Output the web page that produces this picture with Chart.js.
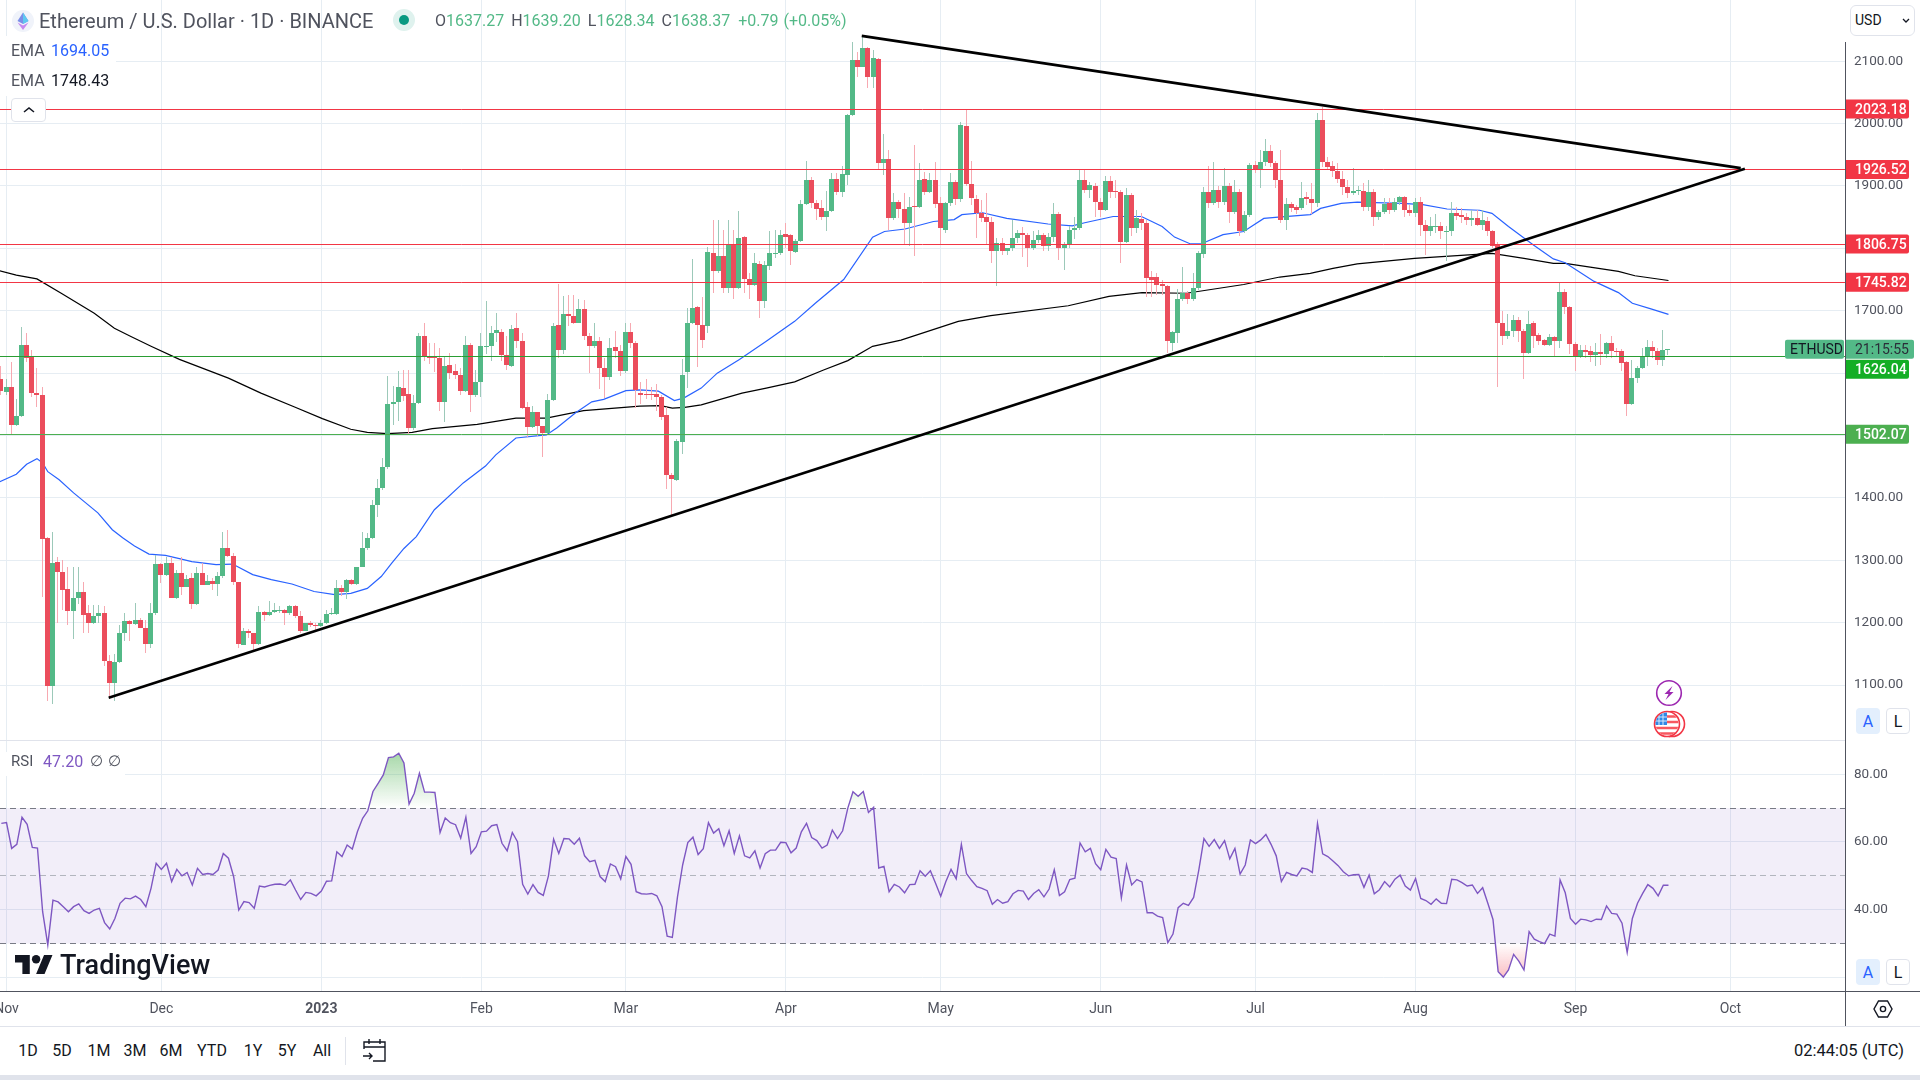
<!DOCTYPE html>
<html>
<head>
<meta charset="utf-8">
<title>ETHUSD</title>
<script src="https://cdn.jsdelivr.net/npm/chart.js@4"></script>
<style>
  html, body { margin: 0; padding: 0; background: #fff; width: 1920px; height: 1080px; overflow: hidden; font-family: Roboto, sans-serif; color: #131722; }
  canvas { position: absolute; left: 0; }
  #priceChart { top: 0; }
  #rsiChart { top: 740px; }
  .abs { position: absolute; white-space: nowrap; }
  .btnA, .btnL { position: absolute; width: 24px; height: 26px; line-height: 27px; text-align: center; font-size: 16px; border-radius: 4px; box-sizing: border-box; }
  .btnA { left: 1856px; background: #e3effd; color: #2962ff; }
  .btnL { left: 1886px; border: 1px solid #e0e3eb; color: #131722; line-height: 25px; background: #fff; }
  .range { position: absolute; top: 1040px; font-size: 16px; line-height: 21px; transform: translateX(-50%); color: #131722; }
  .up { color: #53b987; }
  .lbl { color: #50535e; }
</style>
</head>
<body>
<canvas id="priceChart" width="1920" height="740"></canvas>
<canvas id="rsiChart" width="1920" height="286"></canvas>

<!-- pane and axis lines -->
<div class="abs" style="left:0;top:740px;width:1845px;height:1px;background:#e0e3eb"></div>
<div class="abs" style="left:0;top:991px;width:1920px;height:1px;background:#50535e"></div>
<div class="abs" style="left:0;top:1026px;width:1920px;height:1px;background:#e0e3eb"></div>
<div class="abs" style="left:1845px;top:42px;width:1px;height:984px;background:#50535e"></div>
<div class="abs" style="left:0;top:1075px;width:1920px;height:5px;background:#e0e3eb"></div>

<!-- header -->
<svg class="abs" style="left:11px;top:9px" width="24" height="24" viewBox="0 0 24 24">
  <circle cx="12" cy="12" r="11" fill="#f0f3fa"/>
  <path d="M12 3.5 L6.5 12 L12 15 L17.5 12Z" fill="#7b8ee8"/>
  <path d="M12 3.5 L12 15 L17.5 12Z" fill="#5ec8f0"/>
  <path d="M6.5 13.4 L12 21 L17.5 13.4 L12 16.5Z" fill="#c58af0"/>
</svg>
<div class="abs" style="left:39px;top:9px;font-size:20px;line-height:24px;color:#50535e">Ethereum / U.S. Dollar · 1D · BINANCE</div>
<svg class="abs" style="left:393px;top:9px" width="22" height="22"><circle cx="11" cy="11" r="11" fill="#dff2ee"/><circle cx="11" cy="11" r="5" fill="#089981"/></svg>
<div class="abs lbl" style="left:435px;top:10px;font-size:16px;line-height:22px"><span>O</span><span class="up">1637.27</span><span style="margin-left:7px">H</span><span class="up">1639.20</span><span style="margin-left:7px">L</span><span class="up">1628.34</span><span style="margin-left:7px">C</span><span class="up">1638.37</span><span class="up" style="margin-left:8px">+0.79</span><span class="up" style="margin-left:5px">(+0.05%)</span></div>

<!-- moving average legend -->
<div class="abs" style="left:0;top:36px;width:116px;height:60px;background:#fff"></div>
<div class="abs lbl" style="left:11px;top:40px;font-size:16px;line-height:21px">EMA</div>
<div class="abs" style="left:51px;top:40px;font-size:16px;line-height:21px;color:#2962ff">1694.05</div>
<div class="abs lbl" style="left:11px;top:70px;font-size:16px;line-height:21px">EMA</div>
<div class="abs" style="left:51px;top:70px;font-size:16px;line-height:21px;color:#131722">1748.43</div>
<div class="abs" style="left:11px;top:98px;width:35px;height:24px;background:#fff;border:1px solid #e0e3eb;border-radius:4px;box-sizing:border-box"></div>
<svg class="abs" style="left:22px;top:106px" width="14" height="8"><path d="M2 6 L7 2 L12 6" fill="none" stroke="#131722" stroke-width="1.6"/></svg>

<!-- currency box -->
<div class="abs" style="left:1850px;top:5px;width:65px;height:31px;border:1px solid #e0e3eb;border-radius:6px;box-sizing:border-box;background:#fff"></div>
<div class="abs" style="left:1855px;top:10px;font-size:14px;line-height:20px;color:#131722">USD</div>
<svg class="abs" style="left:1901px;top:18px" width="10" height="6"><path d="M2 1 L5 4 L8 1" fill="none" stroke="#131722" stroke-width="1.3"/></svg>

<!-- event icons -->
<svg class="abs" style="left:1655px;top:679px" width="28" height="28" viewBox="0 0 28 28">
  <circle cx="14" cy="14" r="12.3" fill="#fff" stroke="#9c27b0" stroke-width="1.6"/>
  <path d="M17.5 7 L9.5 15 L13.5 15 L10.5 21 L18.5 13 L14.5 13Z" fill="#9c27b0"/>
</svg>
<svg class="abs" style="left:1652px;top:708px" width="36" height="32" viewBox="0 0 36 32">
  <defs><clipPath id="flagClip"><circle cx="15" cy="16" r="11.5"/></clipPath></defs>
  <circle cx="20" cy="16" r="12.5" fill="#fff" stroke="#f23645" stroke-width="1.6"/>
  <circle cx="15" cy="16" r="12.5" fill="#fff" stroke="#f23645" stroke-width="1.6"/>
  <g clip-path="url(#flagClip)">
    <path d="M3 8.5 H28 M3 14 H28 M3 20 H28 M3 25.5 H28" stroke="#f7575f" stroke-width="2.6"/>
    <rect x="3" y="4" width="12" height="13" fill="#2f88e6"/>
    <path d="M7 4 V17 M11 4 V17 M3 9 H15 M3 13 H15" stroke="#d6e8fb" stroke-width="1"/>
  </g>
</svg>

<!-- A / L buttons -->
<div class="btnA" style="top:708px">A</div><div class="btnL" style="top:708px">L</div>
<div class="btnA" style="top:959px">A</div><div class="btnL" style="top:959px">L</div>

<!-- RSI legend -->
<div class="abs" style="left:0;top:752px;width:125px;height:24px;background:#fff"></div>
<div class="abs lbl" style="left:11px;top:751px;font-size:15px;line-height:21px">RSI</div>
<div class="abs" style="left:43px;top:751px;font-size:16px;line-height:21px;color:#7e57c2">47.20</div>
<div class="abs lbl" style="left:90px;top:751px;font-size:15px;line-height:21px">∅</div>
<div class="abs lbl" style="left:108px;top:751px;font-size:15px;line-height:21px">∅</div>

<!-- watermark -->
<svg class="abs" style="left:15px;top:955px" width="38" height="19" viewBox="0 0 36 18">
  <path d="M14 18H7V7H0V0h14v18zM28 18h-8L27.5 0h8L28 18z" fill="#131722"/>
  <circle cx="20" cy="4" r="4" fill="#131722"/>
</svg>
<div class="abs" style="left:60px;top:949px;font-size:27px;line-height:32px;font-weight:500;color:#131722">TradingView</div>

<!-- bottom toolbar -->
<div class="range" style="left:28px">1D</div>
<div class="range" style="left:62px">5D</div>
<div class="range" style="left:99px">1M</div>
<div class="range" style="left:135px">3M</div>
<div class="range" style="left:171px">6M</div>
<div class="range" style="left:212px">YTD</div>
<div class="range" style="left:253px">1Y</div>
<div class="range" style="left:287px">5Y</div>
<div class="range" style="left:322px">All</div>
<div class="abs" style="left:345px;top:1037px;width:1px;height:28px;background:#e0e3eb"></div>
<svg class="abs" style="left:362px;top:1037px" width="25" height="26" viewBox="0 0 25 26">
  <path d="M2 12 V5 H23 V24 H11 M2 10 H23 M7 2 V7 M18 2 V7 M1 19 H10 M7 16 L10 19 L7 22" fill="none" stroke="#131722" stroke-width="1.4"/>
</svg>
<div class="abs" style="left:1794px;top:1040px;font-size:16.5px;line-height:21px;color:#131722">02:44:05 (UTC)</div>
<svg class="abs" style="left:1872px;top:998px" width="22" height="22" viewBox="0 0 22 22">
  <path d="M6.5 3 H15.5 L20 11 L15.5 19 H6.5 L2 11Z" fill="none" stroke="#131722" stroke-width="1.4"/>
  <circle cx="11" cy="11" r="2.6" fill="none" stroke="#131722" stroke-width="1.4"/>
</svg>

<script>
// daily candles, first one is Oct 31 2022, last one is Sep 19 2023
const opens = [
  1591,1570,1578,1517,1531,1645,1627,1568,1565,1335,
  1098,1297,1282,1254,1218,1239,1250,1215,1199,1211,
  1215,1139,1104,1137,1183,1202,1198,1205,1192,1166,
  1215,1294,1276,1295,1240,1279,1258,1271,1230,1279,
  1261,1267,1262,1275,1319,1307,1265,1164,1187,1183,
  1166,1217,1213,1217,1220,1220,1216,1227,1211,1187,
  1199,1197,1194,1199,1214,1214,1255,1250,1269,1262,
  1289,1319,1336,1389,1416,1449,1551,1553,1576,1567,
  1512,1552,1660,1627,1627,1625,1554,1613,1603,1597,
  1572,1645,1565,1585,1643,1643,1665,1666,1629,1612,
  1672,1652,1545,1513,1537,1515,1504,1557,1677,1637,
  1694,1692,1681,1703,1660,1643,1652,1608,1593,1642,
  1635,1604,1666,1648,1568,1567,1566,1566,1561,1533,
  1437,1429,1490,1601,1680,1706,1677,1676,1792,1763,
  1788,1737,1807,1737,1818,1751,1742,1775,1715,1772,
  1792,1792,1823,1821,1794,1811,1871,1910,1872,1864,
  1850,1860,1911,1891,1918,2014,2102,2091,2121,2075,
  2103,1936,1943,1848,1874,1863,1841,1868,1866,1911,
  1891,1910,1872,1830,1872,1907,1879,1996,1903,1879,
  1856,1851,1843,1795,1808,1795,1800,1817,1824,1822,
  1800,1814,1821,1804,1818,1855,1800,1807,1830,1832,
  1910,1893,1900,1875,1862,1908,1892,1890,1810,1886,
  1832,1847,1840,1754,1754,1743,1740,1649,1665,1718,
  1728,1719,1736,1791,1890,1872,1894,1875,1900,1859,
  1890,1827,1854,1934,1926,1938,1956,1937,1910,1846,
  1871,1866,1864,1882,1879,1872,2006,1938,1932,1924,
  1911,1898,1888,1892,1892,1866,1891,1850,1858,1873,
  1861,1875,1882,1862,1856,1875,1838,1827,1835,1836,
  1827,1827,1856,1854,1850,1846,1848,1838,1844,1827,
  1807,1681,1660,1668,1685,1668,1633,1680,1661,1653,
  1645,1658,1652,1730,1706,1646,1628,1637,1636,1629,
  1634,1631,1648,1636,1635,1618,1551,1592,1608,1627,
  1642,1635,1621,1637.27
];
const closes = [
  1571,1578,1517,1531,1645,1625,1568,1565,1334,1098,
  1295,1282,1253,1218,1239,1250,1213,1199,1211,1215,
  1139,1104,1137,1183,1202,1198,1205,1192,1166,1215,
  1294,1276,1295,1240,1279,1258,1270,1230,1279,1261,
  1267,1262,1275,1319,1307,1265,1166,1187,1183,1166,
  1217,1213,1217,1220,1221,1216,1227,1210,1187,1199,
  1196,1194,1199,1214,1215,1255,1250,1269,1262,1289,
  1319,1336,1389,1416,1449,1551,1553,1577,1564,1512,
  1552,1660,1627,1625,1625,1554,1612,1600,1597,1572,
  1645,1565,1585,1643,1644,1665,1669,1629,1613,1670,
  1651,1544,1513,1537,1515,1504,1557,1676,1637,1695,
  1691,1680,1703,1659,1643,1652,1608,1593,1641,1635,
  1604,1666,1648,1573,1565,1565,1565,1561,1530,1436,
  1431,1492,1597,1680,1704,1677,1653,1794,1763,1787,
  1737,1807,1737,1816,1751,1742,1776,1715,1774,1792,
  1793,1821,1818,1795,1812,1871,1910,1872,1863,1850,
  1860,1911,1891,1919,2014,2102,2091,2121,2075,2105,
  1937,1943,1848,1874,1863,1841,1866,1866,1910,1891,
  1910,1871,1832,1872,1907,1879,1998,1903,1880,1856,
  1849,1843,1795,1808,1795,1800,1817,1825,1821,1800,
  1814,1821,1804,1818,1855,1800,1807,1830,1833,1910,
  1893,1902,1874,1862,1908,1891,1890,1810,1885,1832,
  1848,1840,1752,1750,1741,1740,1651,1666,1718,1728,
  1719,1736,1792,1890,1872,1894,1874,1900,1859,1890,
  1827,1854,1934,1926,1938,1956,1937,1910,1846,1871,
  1864,1862,1881,1879,1872,2006,1938,1931,1924,1911,
  1898,1888,1892,1893,1866,1891,1850,1858,1871,1861,
  1875,1882,1862,1856,1875,1838,1827,1835,1836,1827,
  1828,1856,1852,1850,1846,1848,1838,1846,1827,1804,
  1681,1660,1668,1685,1667,1633,1679,1659,1652,1645,
  1658,1652,1730,1706,1646,1628,1637,1634,1629,1634,
  1631,1648,1635,1635,1617,1551,1592,1608,1627,1642,
  1635,1621,1637,1638.37
];
const highs = [
  1612,1590,1618,1558,1674,1665,1637,1608,1578,1338,
  1345,1306,1301,1290,1290,1290,1266,1229,1229,1229,
  1226,1148,1150,1197,1215,1204,1231,1207,1204,1231,
  1309,1295,1306,1306,1285,1306,1277,1279,1290,1295,
  1277,1271,1282,1346,1349,1311,1266,1191,1190,1184,
  1226,1218,1234,1231,1226,1222,1229,1229,1218,1200,
  1202,1199,1205,1221,1224,1269,1261,1270,1270,1290,
  1345,1343,1397,1430,1464,1595,1579,1603,1605,1605,
  1565,1664,1681,1648,1648,1641,1627,1633,1615,1608,
  1660,1648,1605,1665,1715,1675,1696,1671,1660,1677,
  1697,1664,1553,1548,1538,1516,1567,1680,1743,1723,
  1726,1726,1719,1717,1665,1680,1658,1625,1657,1667,
  1645,1680,1681,1652,1585,1590,1578,1583,1565,1545,
  1440,1495,1623,1704,1783,1708,1722,1802,1845,1846,
  1829,1846,1829,1860,1819,1760,1792,1780,1779,1827,
  1830,1830,1841,1823,1815,1878,1940,1915,1877,1877,
  1892,1920,1920,1932,2015,2131,2115,2139,2123,2118,
  2105,1983,1958,1889,1878,1889,1883,1966,1937,1923,
  1921,1938,1883,1875,1921,1910,2002,2022,1940,1885,
  1878,1889,1850,1816,1816,1801,1846,1830,1834,1824,
  1827,1830,1824,1825,1872,1858,1810,1835,1850,1926,
  1926,1906,1905,1880,1916,1916,1910,1893,1897,1888,
  1862,1857,1845,1763,1760,1750,1742,1668,1735,1770,
  1732,1760,1795,1899,1932,1938,1900,1929,1905,1910,
  1895,1860,1937,1940,1958,1976,1965,1940,1958,1880,
  1875,1870,1907,1890,1905,2017,2027,1947,1940,1937,
  1924,1910,1928,1900,1905,1910,1895,1862,1880,1880,
  1880,1884,1884,1870,1880,1883,1845,1850,1855,1843,
  1835,1875,1866,1865,1856,1862,1862,1862,1850,1830,
  1810,1699,1695,1693,1690,1670,1700,1684,1665,1655,
  1662,1660,1745,1735,1708,1650,1645,1645,1644,1648,
  1663,1650,1659,1640,1638,1620,1621,1612,1641,1653,
  1652,1640,1669,1639.2
];
const lows = [
  1565,1565,1503,1515,1530,1618,1562,1546,1241,1074,
  1070,1199,1221,1197,1174,1230,1184,1183,1198,1199,
  1130,1081,1075,1135,1170,1170,1197,1191,1152,1159,
  1212,1263,1275,1239,1238,1245,1257,1222,1229,1260,
  1260,1252,1242,1271,1306,1261,1159,1164,1175,1156,
  1165,1202,1210,1216,1215,1196,1212,1208,1183,1187,
  1193,1186,1193,1198,1212,1213,1242,1238,1261,1261,
  1289,1317,1334,1370,1413,1447,1517,1523,1555,1503,
  1509,1550,1620,1615,1602,1540,1521,1590,1590,1565,
  1570,1537,1562,1561,1630,1620,1650,1620,1605,1610,
  1640,1543,1497,1512,1500,1465,1502,1555,1625,1630,
  1675,1679,1680,1653,1600,1640,1574,1560,1589,1625,
  1595,1600,1640,1544,1550,1558,1557,1540,1525,1415,
  1372,1427,1470,1576,1678,1610,1640,1665,1728,1760,
  1728,1728,1718,1735,1728,1718,1740,1688,1705,1766,
  1785,1790,1800,1773,1793,1810,1870,1865,1845,1845,
  1827,1858,1885,1883,1902,2012,2075,2090,2057,2057,
  1925,1918,1829,1845,1848,1805,1804,1788,1865,1885,
  1888,1865,1805,1825,1868,1870,1875,1900,1870,1816,
  1842,1805,1777,1740,1790,1790,1795,1808,1786,1770,
  1797,1808,1795,1795,1810,1782,1766,1800,1815,1830,
  1888,1880,1850,1850,1860,1880,1880,1776,1808,1820,
  1825,1830,1722,1722,1725,1725,1632,1635,1648,1715,
  1710,1715,1733,1785,1865,1870,1865,1870,1840,1855,
  1820,1824,1850,1920,1897,1932,1930,1897,1840,1830,
  1858,1855,1862,1870,1855,1866,1930,1925,1915,1905,
  1885,1880,1885,1885,1860,1860,1835,1845,1855,1855,
  1858,1870,1850,1852,1850,1820,1790,1820,1825,1815,
  1780,1820,1845,1840,1838,1835,1835,1830,1820,1800,
  1577,1645,1655,1658,1650,1591,1630,1640,1645,1644,
  1644,1627,1640,1695,1630,1603,1625,1625,1618,1611,
  1613,1625,1625,1628,1603,1532,1549,1584,1606,1612,
  1625,1613,1611,1628.34
];
const candleDays = closes.map((_, i) => i - 1);

const ema50Days = [-1.3,1.9,3.9,5.9,7,8,10.2,13,17.7,20.5,22.5,24.8,27.6,30.8,33.9,35.9,40.6,43.8,47.7,51.3,55.3,59.6,63.6,66.7,69.9,72.6,74.6,77,79.4,82.9,88.5,92.8,94.8,98.7,104.6,106.6,110.2,113.4,115.7,120,122.7,126.3,129.4,131.2,134.6,137.7,142,147.2,152.7,156.7,162.2,167.8,170.1,174.1,179.6,183.6,185.1,189.1,193.8,201.8,206.5,208.9,214.4,219.9,223.9,226.3,229.4,231.4,235.7,239.7,243.6,246.4,252.6,254.6,258.6,261.7,270.4,274.4,279.1,285.4,287.8,291,295.7,299.7,302,307.6,312.3,315,318.6,322];
const ema50Values = [1426,1438,1454,1463,1456,1442,1429,1408,1376,1349,1336,1323,1310,1308,1302,1298,1293,1294,1277,1269,1262,1250,1245,1247,1255,1274,1295,1319,1338,1381,1424,1451,1469,1496,1501,1512,1536,1554,1558,1572,1573,1571,1556,1560,1576,1600,1622,1651,1683,1712,1750,1818,1827,1831,1843,1846,1854,1857,1848,1839,1836,1841,1851,1851,1835,1818,1807,1807,1822,1827,1848,1850,1854,1864,1872,1874,1872,1870,1863,1861,1856,1835,1806,1783,1777,1747,1729,1712,1703,1694.05];
const ema200Days = [-1.3,1.9,5.9,10.6,17,20.9,24,28,33.5,43,49.3,55.7,61.2,66.7,69.9,73.8,78.6,82.5,91.2,98.7,104.6,111.8,119.7,122.7,126.7,129,131.4,134.6,142.5,147.2,152.7,158.3,163,167.8,173.3,184.4,190.7,205.7,213.6,220,228.6,239.7,246.7,252.6,257,261.7,272.8,287.8,294,299.7,302,312.3,315.5,322];
const ema200Values = [1764,1757,1751,1728,1696,1672,1659,1643,1622,1592,1568,1546,1527,1510,1505,1503,1505,1511,1518,1528,1528,1540,1545,1547,1548,1544,1545,1549,1568,1576,1586,1605,1620,1643,1653,1683,1692,1708,1723,1729,1728,1742,1754,1760,1768,1775,1784,1792,1784,1776,1776,1763,1756,1748.43];

const trendUpDays = [19.8, 336.8];
const trendUpPrices = [1079.7, 1927.4];
const trendDownDays = [165.7, 336];
const trendDownPrices = [2140.5, 1928.5];

// horizontal levels and their tags on the price scale
const levelValues = [2023.18, 1926.52, 1806.75, 1745.82, 1626.04, 1502.07];
const levelColors = ['#f23645', '#f23645', '#f23645', '#f23645', '#2a9d33', '#4caf50'];
const tagColors = ['#f23645', '#f23645', '#f23645', '#f23645', '#14ae25', '#4caf50'];
const tagShift = [0, 0, 0, 0, 12.5, 0];

const rsiValues = [
  65.5,65.7,58.1,59.3,67.3,65.2,58.4,58.2,39.4,29.6,
  42.8,42.3,40.9,39.4,40.9,41.7,39.7,38.9,39.9,40.4,
  36.2,34.3,37.4,41.9,43.4,43.2,44,43,40.9,46.3,
  53.7,51.9,53.7,48.3,51.9,50,51,47.3,52.2,50.4,
  50.7,50.4,51.7,56.6,55.2,49.8,39.9,42.4,42.1,40.4,
  47,46.7,47.2,47.5,47.6,47.2,48.8,45.8,43,45.1,
  44.8,44.1,45.5,48.4,48.5,57.1,55.7,59.1,57.9,63.1,
  67,69.2,74.9,77.3,79.8,84.9,85.1,86.2,83.3,71.2,
  74.4,80.3,74.7,74.7,74.6,62.8,67.1,65.7,65.1,61.1,
  67.3,56.6,58.6,63,63.2,64.8,65.1,59.6,57.4,62.8,
  60.1,47.5,44.6,47.4,45.1,44.2,50,60.8,56.6,61,
  60.9,59.3,61.1,55.9,54.2,54.6,49.8,48.3,53.5,52.7,
  49.1,55.7,53.4,45.3,44.7,44.6,44.8,44.1,40.9,32.2,
  31.8,43.8,53.2,59.8,61.4,56.3,58,65.7,62.6,63.9,
  58.9,63.3,56.6,61.8,55.9,55.3,57.4,52.3,56.5,57.6,
  57.6,59.9,59.8,56.8,58.2,63,65.5,61.3,60.4,58.2,
  59.1,63.5,61,63.3,70,74.8,73.5,74.9,68.7,70.2,
  52.3,52.8,45.3,47.5,46.7,45,47.4,47.5,51.5,49.9,
  51.5,47.8,44,48.3,51.9,49.1,59.3,50.6,48.6,46.8,
  46.3,45.6,41.6,43,41.9,42.4,44.7,45.7,45.5,43,
  44.8,45.9,43.8,46.1,51.8,44.2,45.3,48.9,49.3,59.7,
  57.1,58.1,53.6,51.8,57.8,55.5,55.1,43.5,53.2,47.3,
  48.9,48.2,39.1,39.1,38.1,37.7,30.3,32.8,40.6,41.9,
  41.3,43.6,51.7,61,58.7,60.7,58.1,60.4,55,58.1,
  50.5,53.2,60.6,59.5,60.6,62.2,59.3,55.9,48.3,51,
  50.4,50,52.3,52,51,65.5,56.5,55.7,54.4,53,
  51.2,50,50.3,50.4,46.6,50.2,44.7,45.9,48.3,46.7,
  49,50.2,47,45.8,49.2,43.3,42.7,41.6,43.2,41.9,
  41.8,49,48.8,48,47,47.3,44.8,46.5,41.9,37.1,
  21.7,20.1,22.2,26.8,24.8,22.2,33.5,31.3,30.6,30,
  32.8,32.2,48.8,45,37.4,35.7,37.2,37,36.5,37.2,
  37.1,41.1,38.9,38.7,36,27.4,37.4,41.9,44.8,47.4,
  46.3,44.1,47.2,47.2
];
const rsiLevels = [70, 50, 30];
const rsiLevelColors = ['#787b86', '#b2b5be', '#787b86'];

const priceTicks = [1100, 1200, 1300, 1400, 1500, 1600, 1700, 1800, 1900, 2000, 2100];
const rsiTicks = [20, 40, 60, 80];
const rsiHiddenTick = 20;
const monthDays = [0, 30, 61, 92, 120, 151, 181, 212, 242, 273, 304, 334];
const monthLabels = ['Nov', 'Dec', '2023', 'Feb', 'Mar', 'Apr', 'May', 'Jun', 'Jul', 'Aug', 'Sep', 'Oct'];

const xMin = -1.26, xMax = 356.2;
const lastClose = closes[closes.length - 1];
const upColor = '#53b987', downColor = '#eb4d5c';
const upWick = '#9cc9b9', downWick = '#f7a9b1';
const gridColor = '#e6edf3';
const axisFont = { family: 'Roboto', size: 13.5 };

function lineSet(days, values, color, width, order) {
    return {
        type: 'line',
        data: days.map((d, i) => ({ x: d, y: values[i] })),
        borderColor: color,
        borderWidth: width,
        pointRadius: 0,
        tension: 0,
        fill: false,
        order: order
    };
}

function xAxis() {
    return {
        type: 'linear',
        min: xMin,
        max: xMax,
        offset: false,
        afterBuildTicks: axis => { axis.ticks = monthDays.map(v => ({ value: v })); },
        afterFit: axis => { axis.height = axis.chart.canvas.id === 'rsiChart' ? 34 : 0; },
        ticks: { display: false },
        border: { display: false },
        grid: { color: gridColor, drawTicks: false, offset: false }
    };
}

function yAxis(min, max, tickList) {
    return {
        position: 'right',
        min: min,
        max: max,
        afterBuildTicks: axis => { axis.ticks = tickList.map(v => ({ value: v })); },
        afterFit: axis => { axis.width = 75; axis.paddingTop = 0; axis.paddingBottom = 0; },
        border: { display: false },
        grid: { color: gridColor, drawTicks: false },
        ticks: {
            color: '#50535e',
            font: axisFont,
            padding: 9,
            crossAlign: 'near',
            autoSkip: false,
            callback: v => v === rsiHiddenTick ? '' : Number(v).toFixed(2)
        }
    };
}

function roundTag(ctx, x, y, w, h, r, color) {
    ctx.fillStyle = color;
    ctx.beginPath();
    ctx.roundRect(x, y, w, h, r);
    ctx.fill();
}

// keep candles and flat level lines on whole pixels so they stay sharp
const snapPlugin = {
    id: 'snap',
    afterDatasetsUpdate(chart) {
        chart.data.datasets.forEach((ds, i) => {
            const meta = chart.getDatasetMeta(i);
            if (ds.flat) {
                meta.data.forEach(p => { p.y = Math.floor(p.y) + 0.5; });
            }
            if (ds.candleWidth) {
                meta.data.forEach(bar => {
                    bar.x = Math.floor(bar.x - 2.5) + 2.5;
                    bar.width = ds.candleWidth;
                    bar.y = Math.round(bar.y);
                    bar.base = Math.round(bar.base);
                    if (bar.y === bar.base) bar.base += 1;
                });
            }
        });
    }
};

// price tags on the right side, over the level lines
const priceTagsPlugin = {
    id: 'priceTags',
    afterDraw(chart) {
        const ctx = chart.ctx;
        const yScale = chart.scales.y;
        ctx.save();
        ctx.font = '500 14px Roboto';
        ctx.textBaseline = 'middle';
        levelValues.forEach((v, i) => {
            const y = yScale.getPixelForValue(v) + tagShift[i];
            roundTag(ctx, 1845, y - 9.5, 64, 19, [0, 2, 2, 0], tagColors[i]);
            ctx.fillStyle = '#fff';
            ctx.fillText(v.toFixed(2), 1855, y + 1);
        });
        const y = yScale.getPixelForValue(lastClose);
        roundTag(ctx, 1785, y - 9.5, 59, 19, 2, upColor);
        roundTag(ctx, 1845, y - 9.5, 69, 19, [0, 2, 2, 0], '#53b987');
        ctx.font = '14px Roboto';
        ctx.fillStyle = '#131722';
        ctx.fillText('ETHUSD', 1790, y + 1);
        ctx.fillStyle = '#2a2e39';
        ctx.fillText('21:15:55', 1855, y + 1);
        ctx.restore();
    }
};

// purple band and month names under the RSI pane
const rsiPanePlugin = {
    id: 'rsiPane',
    beforeDatasetsDraw(chart) {
        const ctx = chart.ctx;
        const top = chart.scales.y.getPixelForValue(rsiLevels[0]);
        const bottom = chart.scales.y.getPixelForValue(rsiLevels[2]);
        ctx.save();
        ctx.fillStyle = 'rgba(126, 87, 194, 0.1)';
        ctx.fillRect(chart.chartArea.left, top, chart.chartArea.width, bottom - top);
        ctx.restore();
    },
    afterDraw(chart) {
        const ctx = chart.ctx;
        ctx.save();
        ctx.textAlign = 'center';
        ctx.textBaseline = 'middle';
        monthLabels.forEach((label, i) => {
            ctx.font = (label === '2023' ? 'bold ' : '') + '14px Roboto';
            ctx.fillStyle = '#50535e';
            ctx.fillText(label, chart.scales.x.getPixelForValue(monthDays[i]), 269);
        });
        ctx.restore();
    }
};

document.addEventListener('DOMContentLoaded', function() {
    // Price pane
    const priceCtx = document.getElementById('priceChart');
    const levelSets = levelValues.map((v, i) => {
        const s = lineSet([xMin, xMax], [v, v], levelColors[i], 1, 1);
        s.flat = true;
        return s;
    });
    new Chart(priceCtx, {
        type: 'bar',
        data: {
            datasets: [
                lineSet(trendUpDays, trendUpPrices, '#000000', 2.6, 0),
                lineSet(trendDownDays, trendDownPrices, '#000000', 2.6, 0),
                ...levelSets,
                {
                    data: candleDays.map((d, i) => ({ x: d, y: [opens[i], closes[i]] })),
                    backgroundColor: closes.map((c, i) => c >= opens[i] ? upColor : downColor),
                    barThickness: 5,
                    candleWidth: 5,
                    inflateAmount: 0,
                    order: 2
                },
                {
                    data: candleDays.map((d, i) => ({ x: d, y: [lows[i], highs[i]] })),
                    backgroundColor: closes.map((c, i) => c >= opens[i] ? upWick : downWick),
                    barThickness: 1,
                    candleWidth: 1,
                    inflateAmount: 0,
                    order: 3
                },
                lineSet(ema50Days, ema50Values, '#2962ff', 1.2, 4),
                lineSet(ema200Days, ema200Values, '#000000', 1.2, 4)
            ]
        },
        options: {
            responsive: false,
            animation: false,
            devicePixelRatio: 1,
            layout: { padding: 0, autoPadding: false },
            datasets: { bar: { grouped: false } },
            plugins: { legend: { display: false }, tooltip: { enabled: false } },
            scales: { x: xAxis(), y: yAxis(1012, 2198, priceTicks) }
        },
        plugins: [snapPlugin, priceTagsPlugin]
    });

    // RSI pane
    const rsiCtx = document.getElementById('rsiChart');
    const g = rsiCtx.getContext('2d');
    const obGradient = g.createLinearGradient(0, 12, 0, 68);
    obGradient.addColorStop(0, 'rgba(76, 175, 80, 0.5)');
    obGradient.addColorStop(1, 'rgba(76, 175, 80, 0)');
    const osGradient = g.createLinearGradient(0, 203, 0, 240);
    osGradient.addColorStop(0, 'rgba(242, 54, 69, 0)');
    osGradient.addColorStop(1, 'rgba(242, 54, 69, 0.35)');
    const rsiLine = lineSet(candleDays, rsiValues, '#7e57c2', 1.4, 0);
    rsiLine.fill = { target: { value: rsiLevels[0] }, above: obGradient, below: 'rgba(0,0,0,0)' };
    const rsiLow = lineSet(candleDays, rsiValues, 'rgba(0,0,0,0)', 0, 1);
    rsiLow.fill = { target: { value: rsiLevels[2] }, above: 'rgba(0,0,0,0)', below: osGradient };
    const rsiLevelSets = rsiLevels.map((v, i) => {
        const s = lineSet([xMin, xMax], [v, v], rsiLevelColors[i], 1, 2);
        s.borderDash = [6, 4];
        s.flat = true;
        return s;
    });
    new Chart(rsiCtx, {
        type: 'line',
        data: { datasets: [rsiLine, rsiLow, ...rsiLevelSets] },
        options: {
            responsive: false,
            animation: false,
            devicePixelRatio: 1,
            layout: { padding: 0, autoPadding: false },
            plugins: { legend: { display: false }, tooltip: { enabled: false } },
            scales: { x: xAxis(), y: yAxis(15.7, 90.1, rsiTicks) }
        },
        plugins: [snapPlugin, rsiPanePlugin]
    });
});
</script>
</body>
</html>
